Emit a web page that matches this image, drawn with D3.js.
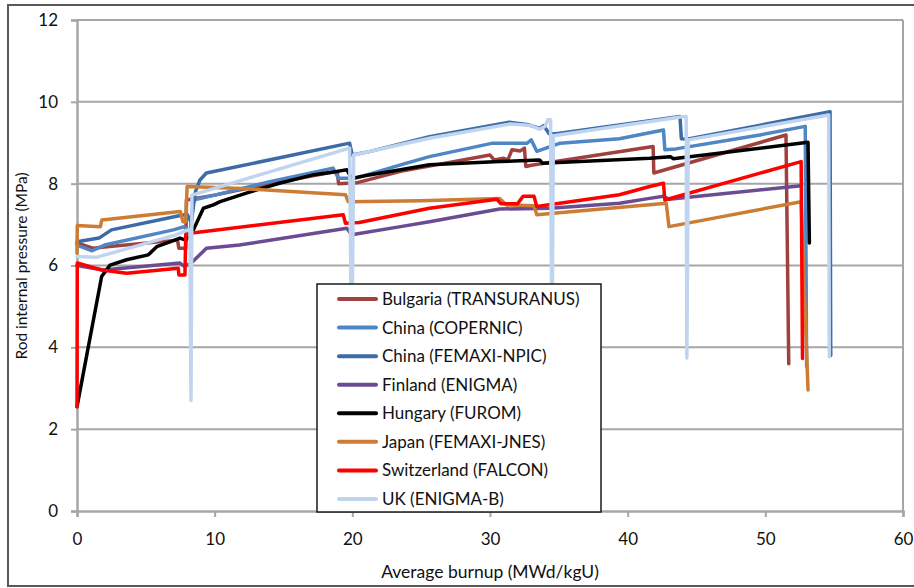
<!DOCTYPE html>
<html>
<head>
<meta charset="utf-8">
<script src="https://cdn.jsdelivr.net/npm/d3@7"></script>
<style>
  html, body { margin: 0; padding: 0; background: #fff; }
  svg { display: block; }
  text { font-family: Lato, "Open Sans", sans-serif; fill: #111; }
</style>
</head>
<body>
<svg id="chart" width="914" height="588"></svg>
<script>
// Rod internal pressure (MPa) versus average burnup (MWd/kgU), one track per code.
// Each track is a list of [burnup, pressure] points.
const bulgaria = [[0,6.55],[1.2,6.42],[2.0,6.45],[7.3,6.62],[7.4,6.42],[7.9,6.42],[7.95,7.6],[10,7.72],[14,8.0],[18.9,8.3],[19.0,8.0],[20.3,8.02],[23.5,8.3],[30.0,8.7],[30.3,8.58],[31.0,8.62],[31.3,8.58],[31.6,8.83],[32.2,8.8],[32.5,8.87],[32.6,8.42],[33.0,8.45],[41.85,8.91],[41.9,8.26],[51.5,9.19],[51.7,3.6]];
const chinaCopernic = [[0,6.5],[1.1,6.36],[2.0,6.5],[7.0,6.87],[7.8,6.95],[8.2,6.75],[8.45,7.6],[10,7.72],[14,8.05],[18.6,8.38],[19.0,8.13],[20.2,8.13],[23.5,8.46],[25.6,8.66],[30.2,8.99],[32.7,8.99],[33.0,9.07],[33.4,8.79],[35.1,8.99],[39.4,9.1],[42.6,9.31],[42.7,8.83],[43.5,8.85],[49.6,9.19],[52.9,9.4],[53.0,3.52]];
const chinaFemaxiNpic = [[0,6.58],[1.6,6.67],[2.5,6.87],[7.5,7.22],[8.0,7.25],[8.3,7.05],[8.6,7.8],[8.93,8.09],[9.4,8.26],[19.8,8.99],[20.0,8.7],[21.3,8.79],[25.6,9.15],[31.4,9.5],[32.8,9.44],[33.6,9.35],[33.9,9.42],[34.3,9.22],[34.8,9.22],[41.6,9.54],[43.8,9.64],[43.9,9.1],[44.4,9.09],[54.7,9.76],[54.75,3.8]];
const finland = [[0,6.0],[1.9,5.89],[7.48,6.06],[7.8,5.98],[8.3,6.06],[9.4,6.42],[11.8,6.5],[19.6,6.91],[19.95,6.75],[23.5,6.95],[25.6,7.07],[30.7,7.38],[34.4,7.4],[39.4,7.52],[41.6,7.64],[42.6,7.69],[43.0,7.62],[52.6,7.95]];
const hungary = [[0,2.55],[1.79,5.73],[2.4,6.01],[3.6,6.14],[5.18,6.26],[5.79,6.46],[6.75,6.58],[7.48,6.67],[7.9,6.62],[8.45,6.87],[9.18,7.4],[9.9,7.48],[10.4,7.56],[12.3,7.77],[14.7,8.01],[17.2,8.22],[18.9,8.3],[19.6,8.34],[19.95,8.13],[21,8.2],[23.5,8.34],[25.6,8.46],[30.7,8.54],[33.6,8.58],[33.8,8.5],[41.6,8.62],[43.1,8.66],[43.3,8.61],[53.1,9.01],[53.2,6.55]];
const japan = [[0,6.3],[0.02,6.98],[1.7,6.95],[1.8,7.11],[7.5,7.32],[7.7,7.07],[7.9,7.07],[8.0,7.93],[12,7.88],[19.5,7.73],[19.7,7.56],[25,7.58],[30.7,7.64],[31.2,7.48],[33.2,7.46],[33.4,7.24],[42.8,7.52],[43.0,6.95],[52.6,7.56],[53.1,2.96]];
const switzerland = [[0,2.55],[0.02,6.06],[1.79,5.89],[3.6,5.81],[7.36,5.93],[7.4,5.77],[7.84,5.77],[7.9,6.75],[8.2,6.79],[19.34,7.24],[19.5,7.03],[20.5,7.05],[25.6,7.4],[30.5,7.62],[30.8,7.51],[32.0,7.51],[32.4,7.69],[33.2,7.69],[33.4,7.44],[39.4,7.73],[41.6,7.93],[42.6,8.01],[42.7,7.6],[52.6,8.54],[52.7,3.73]];
const uk = [[0,6.22],[1.4,6.2],[7.2,6.75],[7.9,6.85],[8.2,6.88],[8.28,2.7],[8.35,7.72],[11.8,8.07],[19.8,8.87],[19.95,3.7],[20.1,8.7],[25.6,9.11],[31.5,9.46],[33.0,9.42],[33.6,9.33],[34.0,9.4],[34.2,9.56],[34.4,9.56],[34.5,3.7],[34.6,9.17],[44.1,9.64],[44.25,9.64],[44.3,3.74],[44.4,9.07],[54.6,9.68],[54.65,3.77]];

const seriesNames = ["Bulgaria (TRANSURANUS)", "China (COPERNIC)", "China (FEMAXI-NPIC)", "Finland (ENIGMA)",
                     "Hungary (FUROM)", "Japan (FEMAXI-JNES)", "Switzerland (FALCON)", "UK (ENIGMA-B)"];
const seriesData = [bulgaria, chinaCopernic, chinaFemaxiNpic, finland, hungary, japan, switzerland, uk];
const seriesColors = ["#A0413F", "#4F86C6", "#3C6BA5", "#6B4C93", "#000000", "#CC7D33", "#FF0000", "#BFD4EF"];

const xTicks = [0, 10, 20, 30, 40, 50, 60];
const yTicks = [0, 2, 4, 6, 8, 10, 12];
const xTitle = "Average burnup (MWd/kgU)";
const yTitle = "Rod internal pressure (MPa)";

const svg = d3.select("#chart");

// Outer chart frame
svg.append("rect")
  .attr("x", 8).attr("y", 5).attr("width", 920).attr("height", 581)
  .attr("fill", "none").attr("stroke", "#595959").attr("stroke-width", 2);

const x = d3.scaleLinear().domain([0, 60]).range([77, 903]);
const y = d3.scaleLinear().domain([0, 12]).range([511, 20]);

// Horizontal gridlines
svg.append("g")
  .selectAll("line")
  .data(yTicks.filter(d => d > 0))
  .join("line")
  .attr("x1", x(0)).attr("x2", x(60))
  .attr("y1", d => y(d)).attr("y2", d => y(d))
  .attr("stroke", "#a6a6a6").attr("stroke-width", 2);

// Right edge of the plot area
svg.append("line")
  .attr("x1", x(60)).attr("x2", x(60)).attr("y1", y(12)).attr("y2", y(0))
  .attr("stroke", "#a6a6a6").attr("stroke-width", 2);

// Axes
const xAxis = svg.append("g")
  .attr("transform", `translate(0,${y(0)})`)
  .call(d3.axisBottom(x).tickValues(xTicks).tickSize(6).tickPadding(16).tickFormat(d3.format("d")));
const yAxis = svg.append("g")
  .attr("transform", `translate(${x(0)},0)`)
  .call(d3.axisLeft(y).tickValues(yTicks).tickSize(6).tickPadding(13).tickFormat(d3.format("d")));

[xAxis, yAxis].forEach(g => {
  g.select(".domain").attr("stroke", "#a6a6a6").attr("stroke-width", 2.5);
  g.selectAll(".tick line").attr("stroke", "#a6a6a6").attr("stroke-width", 2);
  g.selectAll(".tick text").attr("font-size", 17).attr("font-family", "Lato, sans-serif").attr("fill", "#111");
});

// Data tracks
const line = d3.line().x(d => x(d[0])).y(d => y(d[1]));
svg.append("g")
  .selectAll("path")
  .data(seriesData)
  .join("path")
  .attr("d", line)
  .attr("fill", "none")
  .attr("stroke", (d, i) => seriesColors[i])
  .attr("stroke-width", 3.5)
  .attr("stroke-linejoin", "round")
  .attr("stroke-linecap", "round");

// Axis titles
svg.append("text")
  .attr("x", 490).attr("y", 578)
  .attr("text-anchor", "middle")
  .attr("font-size", 17.5)
  .text(xTitle);
svg.append("text")
  .attr("transform", "translate(27,266) rotate(-90)")
  .attr("text-anchor", "middle")
  .attr("font-size", 15.5)
  .text(yTitle);

// Legend
const legend = svg.append("g");
legend.append("rect")
  .attr("x", 317).attr("y", 284).attr("width", 284).attr("height", 228)
  .attr("fill", "#fff").attr("stroke", "#1a1a1a").attr("stroke-width", 1.5);
const rowY = d3.scaleLinear().domain([0, 7]).range([299, 499]);
const rows = legend.selectAll("g.row")
  .data(seriesNames)
  .join("g")
  .attr("class", "row")
  .attr("transform", (d, i) => `translate(0,${rowY(i)})`);
rows.append("line")
  .attr("x1", 339).attr("x2", 376)
  .attr("stroke", (d, i) => seriesColors[i])
  .attr("stroke-width", 4)
  .attr("stroke-linecap", "round");
rows.append("text")
  .attr("x", 382).attr("dy", "0.35em")
  .attr("font-size", 17)
  .text(d => d);
</script>
</body>
</html>
